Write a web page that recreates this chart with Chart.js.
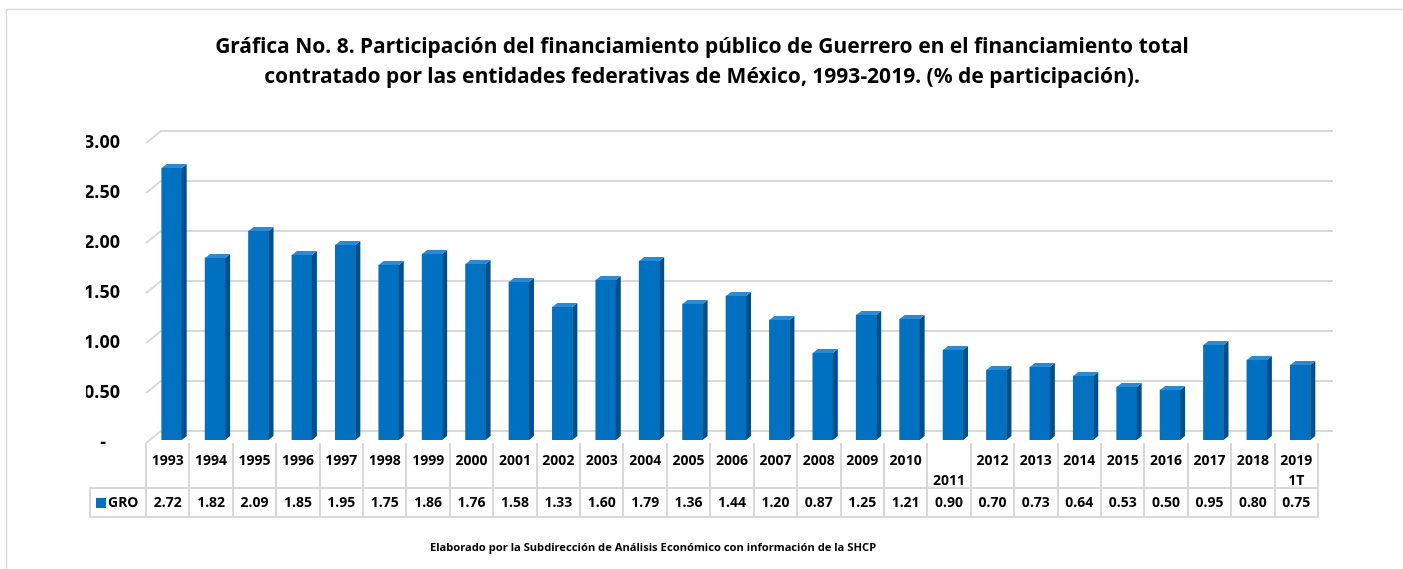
<!DOCTYPE html>
<html>
<head>
<meta charset="utf-8">
<script src="https://cdn.jsdelivr.net/npm/chart.js@4/dist/chart.umd.min.js"></script>
<style>
  html, body { margin: 0; padding: 0; background: #fff; }
  canvas { display: block; }
</style>
</head>
<body>
<canvas id="graph" width="1403" height="569"></canvas>
<script>
const titleLines = [
    'Gráfica No. 8. Participación del financiamiento público de Guerrero en el financiamiento total',
    'contratado por las entidades federativas de México, 1993-2019. (% de participación).'
]
const footerText = 'Elaborado por la Subdirección de Análisis Económico con información de la SHCP'

const years = [
    '1993', '1994', '1995', '1996', '1997', '1998', '1999', '2000', '2001',
    '2002', '2003', '2004', '2005', '2006', '2007', '2008', '2009', '2010',
    ['', '2011'], '2012', '2013', '2014', '2015', '2016', '2017', '2018', ['2019', '1T']
]
const seriesName = 'GRO'
const gro = [
    2.72, 1.82, 2.09, 1.85, 1.95, 1.75, 1.86, 1.76, 1.58,
    1.33, 1.60, 1.79, 1.36, 1.44, 1.20, 0.87, 1.25, 1.21,
    0.90, 0.70, 0.73, 0.64, 0.53, 0.50, 0.95, 0.80, 0.75
]
const yMin = 0
const yMax = 3
const yStep = 0.5

const FONT = '"Noto Sans"'
const GRID = '#d9d9d9'
const BLUE = '#0070c0'
const BLUE_SIDE = '#004f8a'
const BLUE_TOP = '#2b8ad4'

// fake 3d: back wall offset and bar depth
const wall = { dx: 15, dy: -9 }
const depth = { dx: 5, dy: -4 }
const barShift = 4

const frame = {
    id: 'frame',
    beforeDraw(chart) {
        const ctx = chart.ctx
        ctx.save()
        ctx.fillStyle = '#fff'
        ctx.fillRect(0, 0, chart.width, chart.height)
        ctx.strokeStyle = GRID
        ctx.lineWidth = 1.5
        ctx.strokeRect(6.5, 9.5, chart.width + 20, chart.height + 20)
        ctx.restore()
    }
}

const wallGrid = {
    id: 'wallGrid',
    beforeDatasetsDraw(chart) {
        const ctx = chart.ctx
        const y = chart.scales.y
        const area = chart.chartArea
        ctx.save()
        ctx.strokeStyle = GRID
        ctx.lineWidth = 2
        y.ticks.forEach(t => {
            const py = y.getPixelForValue(t.value)
            ctx.beginPath()
            ctx.moveTo(area.left, py + 3)
            ctx.lineTo(area.left + wall.dx, py + wall.dy)
            ctx.lineTo(area.right + wall.dx, py + wall.dy)
            ctx.stroke()
        })
        ctx.restore()
        ctx.save()
        ctx.translate(barShift, 0)
    },
    afterDatasetsDraw(chart) {
        const ctx = chart.ctx
        const meta = chart.getDatasetMeta(0)
        meta.data.forEach(bar => {
            const p = bar.getProps(['x', 'y', 'base', 'width'], true)
            const l = p.x - p.width / 2
            const r = p.x + p.width / 2
            // side
            ctx.fillStyle = BLUE_SIDE
            ctx.beginPath()
            ctx.moveTo(r, p.y)
            ctx.lineTo(r + depth.dx, p.y + depth.dy)
            ctx.lineTo(r + depth.dx, p.base + depth.dy)
            ctx.lineTo(r, p.base)
            ctx.closePath()
            ctx.fill()
            // top
            ctx.fillStyle = BLUE_TOP
            ctx.beginPath()
            ctx.moveTo(l, p.y)
            ctx.lineTo(l + depth.dx, p.y + depth.dy)
            ctx.lineTo(r + depth.dx, p.y + depth.dy)
            ctx.lineTo(r, p.y)
            ctx.closePath()
            ctx.fill()
        })
        ctx.restore()
    }
}

// data table under the plot + source note
const dataTable = {
    id: 'dataTable',
    afterDraw(chart) {
        const ctx = chart.ctx
        const x = chart.scales.x
        const area = chart.chartArea
        const n = years.length
        const colW = (area.right - area.left) / n
        const rowTop = area.bottom + 3
        const valTop = 488
        const valBottom = 517
        const legendLeft = 90

        ctx.save()
        ctx.strokeStyle = GRID
        ctx.lineWidth = 2

        // category row separators
        for (let i = 0; i <= n; i++) {
            const px = Math.round(area.left + i * colW)
            ctx.beginPath()
            ctx.moveTo(px, rowTop)
            ctx.lineTo(px, valTop)
            ctx.stroke()
        }
        // value row box
        ctx.strokeRect(legendLeft, valTop, area.right - legendLeft, valBottom - valTop)
        for (let i = 0; i < n; i++) {
            const px = Math.round(area.left + i * colW)
            ctx.beginPath()
            ctx.moveTo(px, valTop)
            ctx.lineTo(px, valBottom)
            ctx.stroke()
        }

        ctx.fillStyle = '#000'
        ctx.textAlign = 'center'
        ctx.textBaseline = 'middle'
        ctx.font = 'bold 14px ' + FONT
        years.forEach((lab, i) => {
            const cx = x.getPixelForValue(i)
            const lines = Array.isArray(lab) ? lab : [lab]
            lines.forEach((s, j) => ctx.fillText(s, cx, 461 + j * 20))
            ctx.fillText(gro[i].toFixed(2), cx, 503)
        })

        // legend key
        ctx.fillStyle = BLUE
        ctx.fillRect(96, 498, 10, 10)
        ctx.fillStyle = '#000'
        ctx.textAlign = 'left'
        ctx.fillText(seriesName, 108, 503)

        // source note
        ctx.textAlign = 'center'
        ctx.font = 'bold 11.2px ' + FONT
        ctx.fillText(footerText, 653, 548)
        ctx.restore()
    }
}

new Chart(document.getElementById('graph'), {
    type: 'bar',
    data: {
        labels: years,
        datasets: [{
            label: seriesName,
            data: gro,
            backgroundColor: BLUE,
            borderWidth: 0,
            barThickness: 20
        }]
    },
    options: {
        responsive: false,
        animation: false,
        layout: { padding: { left: 86, right: 85, top: 0, bottom: 129 } },
        plugins: {
            legend: { display: false },
            tooltip: { enabled: false },
            title: {
                display: true,
                text: titleLines,
                color: '#000',
                font: { family: FONT, size: 21, weight: 'bold', lineHeight: 1.43 },
                padding: { top: 32, bottom: 48 },
                align: 'center'
            }
        },
        scales: {
            x: { display: false },
            y: {
                min: yMin,
                max: yMax,
                afterFit: s => { s.width = 60 },
                grid: { display: false, drawTicks: false },
                border: { display: false },
                ticks: {
                    stepSize: yStep,
                    padding: 26,
                    labelOffset: 3,
                    color: '#000',
                    font: { family: FONT, size: 18, weight: 'bold' },
                    callback: v => v === 0 ? '-   ' : v.toFixed(2)
                }
            }
        }
    },
    plugins: [frame, wallGrid, dataTable]
});
</script>
</body>
</html>
